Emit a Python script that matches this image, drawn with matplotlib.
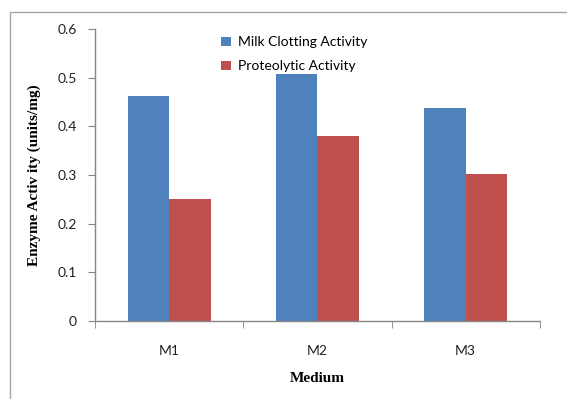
import numpy as np
import matplotlib.pyplot as plt
from matplotlib.patches import Rectangle
from matplotlib.ticker import FixedLocator

media = ['M1', 'M2', 'M3']
milk_clotting = [0.462, 0.507, 0.437]
proteolytic = [0.250, 0.380, 0.301]

blue = '#4F81BD'
red = '#C0504D'
axis_gray = '#868686'

fig = plt.figure(figsize=(5.67, 3.99), dpi=100)
ax = fig.add_axes([0.1676, 0.1955, 0.7844, 0.732])

# outer chart frame (only top/left edges fall inside the canvas)
fig.patches.append(Rectangle((10 / 567, -0.1), 1.2, 1 - 12 / 399 + 0.1,
                             transform=fig.transFigure, fill=False,
                             edgecolor='#a6a6a6', linewidth=1.0))

x = np.arange(len(media))
w = 0.28
ax.bar(x - w / 2, milk_clotting, w, color=blue, label='Milk Clotting Activity')
ax.bar(x + w / 2, proteolytic, w, color=red, label='Proteolytic Activity')

ax.set_xlim(-0.5, 2.5)
ax.set_ylim(0, 0.6)
ax.set_yticks(np.arange(0, 0.61, 0.1))
ax.set_yticklabels(['0', '0.1', '0.2', '0.3', '0.4', '0.5', '0.6'])
ax.set_xticks(x)
ax.set_xticklabels(media)
ax.xaxis.set_minor_locator(FixedLocator([-0.5, 0.5, 1.5, 2.5]))

for s in ['top', 'right']:
    ax.spines[s].set_visible(False)
for s in ['left', 'bottom']:
    ax.spines[s].set_color(axis_gray)
    ax.spines[s].set_linewidth(1.0)

ax.tick_params(axis='y', direction='out', length=5, color=axis_gray,
               labelsize=10, pad=8)
ax.tick_params(axis='x', which='major', length=0, labelsize=10, pad=17)
ax.tick_params(axis='x', which='minor', direction='out', length=5,
               color=axis_gray)
for lbl in ax.get_xticklabels() + ax.get_yticklabels():
    lbl.set_family('Lato')
    lbl.set_color('#222222')

ax.set_ylabel('Enzyme Activ ity (units/mg)', family='Liberation Serif',
              fontweight='bold', fontsize=11, labelpad=12)
ax.set_xlabel('Medium', family='Liberation Serif', fontweight='bold',
              fontsize=11, labelpad=11)

leg = ax.legend(loc='upper left', bbox_to_anchor=(0.255, 1.017), frameon=False,
                handlelength=0.7, handleheight=0.7, handletextpad=0.5,
                labelspacing=0.85, prop={'family': 'Lato', 'size': 10})

fig.savefig('out.png', dpi=100)
